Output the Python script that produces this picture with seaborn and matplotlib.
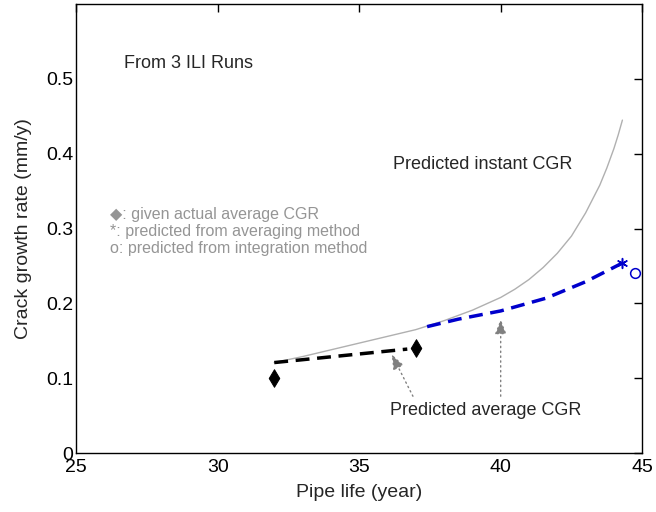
import numpy as np
import pandas as pd
import seaborn as sns
import matplotlib.pyplot as plt

# values
inst_year = [32.0, 33.0, 34.0, 35.0, 36.0, 37.0, 38.0, 39.0, 40.0, 40.5, 41.0, 41.5,
             42.0, 42.5, 43.0, 43.5, 43.75, 44.0, 44.15, 44.3]
inst_cgr = [0.121, 0.129, 0.138, 0.147, 0.156, 0.165, 0.177, 0.191, 0.208, 0.219,
            0.232, 0.248, 0.267, 0.290, 0.321, 0.358, 0.381, 0.407, 0.425, 0.445]

avg1_year = [32.0, 36.7]
avg1_cgr = [0.121, 0.139]

avg2_year = [37.4, 38.5, 40.0, 41.6, 43.0, 44.3]
avg2_cgr = [0.169, 0.179, 0.190, 0.207, 0.229, 0.254]

actual_year = [32.0, 37.0]
actual_cgr = [0.100, 0.140]

star_year = [44.3]
star_cgr = [0.254]
circ_year = [44.75]
circ_cgr = [0.241]

legend_lines = ["\u25c6: given actual average CGR",
                "*: predicted from averaging method",
                "o: predicted from integration method"]


def main():
    sns.set_style("white")
    plt.rcParams['font.family'] = ['Liberation Sans', 'DejaVu Sans']

    fig = plt.figure(figsize=(6.56, 5.12), dpi=100)
    ax = fig.add_axes([0.116, 0.115, 0.863, 0.877])

    df_inst = pd.DataFrame(dict(x=inst_year, y=inst_cgr))
    df_a1 = pd.DataFrame(dict(x=avg1_year, y=avg1_cgr))
    df_a2 = pd.DataFrame(dict(x=avg2_year, y=avg2_cgr))

    sns.lineplot(data=df_inst, x='x', y='y', ax=ax, color='#b0b0b0', lw=1.0)
    sns.lineplot(data=df_a1, x='x', y='y', ax=ax, color='black', lw=2.5,
                 linestyle=(0, (4, 2.2)))
    sns.lineplot(data=df_a2, x='x', y='y', ax=ax, color='#0000cc', lw=2.5,
                 linestyle=(0, (4, 2.2)))

    sns.scatterplot(x=actual_year, y=actual_cgr, ax=ax, marker='d', s=80,
                    color='black', edgecolor='black', zorder=5)
    sns.scatterplot(x=star_year, y=star_cgr, ax=ax, marker=(6, 2, 0), s=50,
                    color='#0000cc', linewidth=1.1, zorder=5)
    ax.plot(circ_year, circ_cgr, 'o', mfc='none', mec='#0000cc', ms=7, mew=1.1,
            zorder=5)

    # annotations
    ax.text(26.7, 0.52, "From 3 ILI Runs", fontsize=13, va='center')
    ax.text(36.2, 0.385, "Predicted instant CGR", fontsize=13, va='center')
    ax.text(39.48, 0.057, "Predicted average CGR", fontsize=13,
            ha='center', va='center')
    for i, t in enumerate(legend_lines):
        ax.text(26.2, 0.319 - i * 0.0228, t, fontsize=11.5, color='#959595',
                va='center')

    ap = dict(arrowstyle='-|>,head_length=0.9,head_width=0.35', color='#808080',
              linestyle=(0, (1, 2.5)), lw=1.0, shrinkA=0, shrinkB=0)
    ax.annotate("", xy=(36.15, 0.132), xytext=(36.9, 0.076), arrowprops=ap)
    ax.annotate("", xy=(40.0, 0.179), xytext=(40.0, 0.076), arrowprops=ap)

    ax.set_xlim(25, 45)
    ax.set_ylim(0, 0.6)
    ax.set_xticks([25, 30, 35, 40, 45])
    ax.set_yticks([0, 0.1, 0.2, 0.3, 0.4, 0.5])
    ax.set_yticklabels(['0', '0.1', '0.2', '0.3', '0.4', '0.5'])
    ax.tick_params(direction='in', length=6, width=1, top=True, right=True,
                   labelsize=14, colors='black', pad=2)
    ax.tick_params(axis='x', pad=4)
    for s in ax.spines.values():
        s.set_color('black')
        s.set_linewidth(1.0)
    ax.set_xlabel("Pipe life (year)", fontsize=14, labelpad=6)
    ax.set_ylabel("Crack growth rate (mm/y)", fontsize=14, labelpad=10)

    plt.savefig('out.png', dpi=100)
    plt.close('all')


if __name__ == "__main__":
    main()
